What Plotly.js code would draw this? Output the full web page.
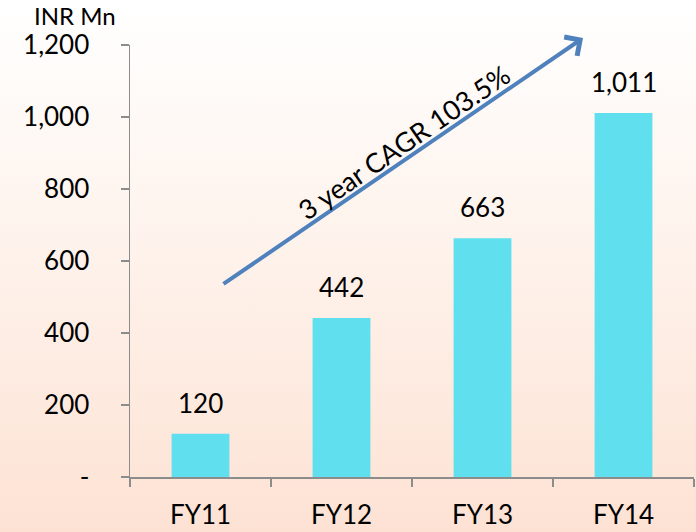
<!DOCTYPE html>
<html>
<head>
<meta charset="utf-8">
<script src="https://cdn.plot.ly/plotly-3.0.1.min.js"></script>
<style>
html,body{margin:0;padding:0;}
body{width:696px;height:532px;background:linear-gradient(to bottom,#ffffff 0%,#fef3ec 45%,#fde2d4 100%);}
#chart{width:696px;height:532px;}
</style>
</head>
<body>
<div id="chart"></div>
<script>
const categories = ["FY11", "FY12", "FY13", "FY14"];
const revenue = [120, 442, 663, 1011];
const valueLabels = ["120", "442", "663", "1,011"];
const yTickVals = [0, 200, 400, 600, 800, 1000, 1200];
const yTickText = ["-", "200", "400", "600", "800", "1,000", "1,200"];
const unitLabel = "INR Mn";
const cagrLabel = "3 year CAGR 103.5%";

const FONT = "Lato, 'Open Sans', sans-serif";
const FS = 26;
const axisGray = "#8c8c8c";

const trace = {
  type: "bar",
  x: categories,
  y: revenue,
  marker: {color: "#60e0ee"},
  hoverinfo: "none"
};

const annotations = categories.map((c, i) => ({
  x: c, y: revenue[i], xref: "x", yref: "y",
  text: valueLabels[i], showarrow: false,
  yanchor: "bottom", yshift: 13,
  font: {family: FONT, size: FS, color: "#000"}
}));

annotations.push({
  xref: "paper", yref: "paper", x: -0.172, y: 1.104,
  xanchor: "left", yanchor: "top", borderpad: 0,
  text: unitLabel, showarrow: false,
  font: {family: FONT, size: 24, color: "#000"}
});

// CAGR arrow
annotations.push({
  xref: "paper", yref: "paper",
  x: (583 - 130) / 564, y: (477 - 38) / 432,
  axref: "pixel", ayref: "pixel",
  ax: -361, ay: 247,
  text: "", showarrow: true,
  arrowhead: 4, arrowsize: 1.1, arrowwidth: 4,
  arrowcolor: "#4f81bd"
});
annotations.push({
  xref: "paper", yref: "paper",
  x: (403 - 130) / 564, y: (477 - 142) / 432,
  xanchor: "center", yanchor: "middle",
  text: cagrLabel, showarrow: false, textangle: -34.5,
  font: {family: FONT, size: 27, color: "#000"}
});

const layout = {
  width: 696, height: 532,
  margin: {l: 130, r: 2, t: 45, b: 55},
  paper_bgcolor: "rgba(0,0,0,0)",
  plot_bgcolor: "rgba(0,0,0,0)",
  showlegend: false,
  bargap: 0.59,
  font: {family: FONT, size: FS, color: "#000"},
  xaxis: {
    type: "category",
    showline: true, linecolor: axisGray, linewidth: 1.5,
    ticks: "outside", tickson: "boundaries", ticklen: 8,
    tickcolor: axisGray, tickwidth: 1.5,
    ticklabelstandoff: 14,
    tickfont: {family: FONT, size: FS, color: "#000"},
    showgrid: false, zeroline: false, fixedrange: true
  },
  yaxis: {
    range: [0, 1200],
    showline: true, linecolor: axisGray, linewidth: 1.5,
    ticks: "outside", ticklen: 8, tickcolor: axisGray, tickwidth: 1.5,
    tickvals: yTickVals, ticktext: yTickText,
    ticklabelstandoff: 26,
    tickfont: {family: FONT, size: FS, color: "#000"},
    showgrid: false, zeroline: false, fixedrange: true
  },
  annotations: annotations
};

Plotly.newPlot("chart", [trace], layout, {displayModeBar: false, staticPlot: true});
</script>
</body>
</html>
